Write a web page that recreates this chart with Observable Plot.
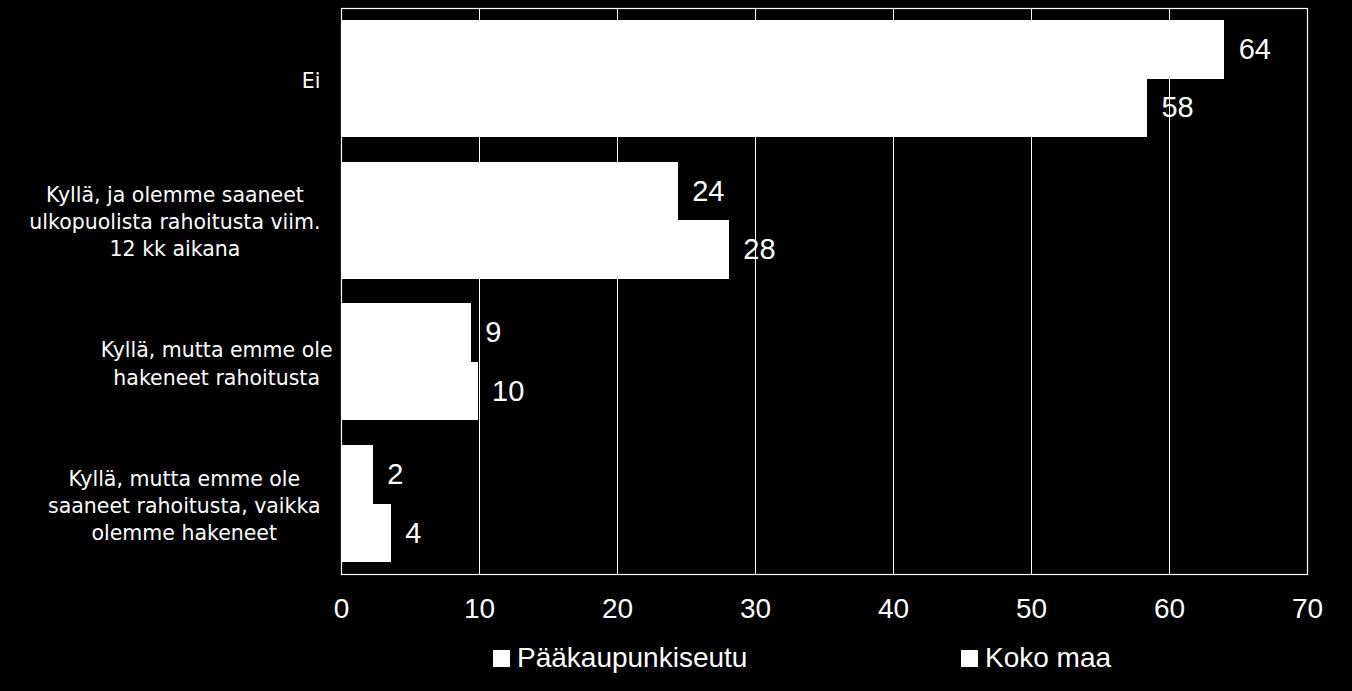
<!DOCTYPE html>
<html><head><meta charset="utf-8">
<script src="https://cdn.jsdelivr.net/npm/d3@7"></script>
<script src="https://cdn.jsdelivr.net/npm/@observablehq/plot@0.6"></script>
<style>
html,body{margin:0;padding:0;background:#000;}
#chart{width:1352px;height:691px;position:relative;background:#000;overflow:hidden;}
#chart svg{display:block;}
.legend{position:relative;height:59px;font-family:"Liberation Sans",Arial,sans-serif;font-size:28px;color:#fff;}
.item{position:absolute;top:0;display:flex;align-items:center;height:52px;white-space:nowrap;}
.sw{width:17px;height:17px;background:#fff;margin-right:7px;}
</style></head><body><div id="chart"></div>
<script>
// ---- data ----
const categories = [
  "Ei",
  "Kyllä, ja olemme saaneet ulkopuolista rahoitusta viim. 12 kk aikana",
  "Kyllä, mutta emme ole hakeneet rahoitusta",
  "Kyllä, mutta emme ole saaneet rahoitusta, vaikka olemme hakeneet"
];
const categoryTickLabels = [
  "Ei",
  "Kyllä, ja olemme saaneet\nulkopuolista rahoitusta viim.\n12 kk aikana",
  "Kyllä, mutta emme ole\nhakeneet rahoitusta",
  "Kyllä, mutta emme ole\nsaaneet rahoitusta, vaikka\nolemme hakeneet"
];
const seriesNames = ["Pääkaupunkiseutu", "Koko maa"];
const paakValues = [64.0, 24.4, 9.4, 2.3];
const kokoValues = [58.4, 28.1, 9.9, 3.6];
const xTicks = [0, 10, 20, 30, 40, 50, 60, 70];

// ---- layout ----
const W = 1352, H = 632, mL = 341, mR = 45, mT = 8, mB = 58;
const pInner = 0.176, pOuter = 0.085;
const numFont = '"Liberation Sans", Arial, sans-serif';
const catFont = '"DejaVu Sans", sans-serif';

const paakRows = categories.map((c, i) => ({category: c, series: seriesNames[0], value: paakValues[i]}));
const kokoRows = categories.map((c, i) => ({category: c, series: seriesNames[1], value: kokoValues[i]}));

function build(half) {
  return Plot.plot({
    width: W, height: H,
    marginLeft: mL, marginRight: mR, marginTop: mT, marginBottom: mB,
    style: {background: "#000", color: "#fff", fontFamily: numFont, fontSize: "28px"},
    x: {domain: [0, 70], label: null},
    y: {domain: categories, paddingInner: pInner, paddingOuter: pOuter, round: false, label: null},
    marks: [
      Plot.gridX(xTicks, {stroke: "#fff", strokeOpacity: 1, strokeWidth: 1}),
      Plot.barX(paakRows, {y: "category", x: "value", fill: "#fff", insetBottom: half - 0.7, shapeRendering: "crispEdges"}),
      Plot.barX(kokoRows, {y: "category", x: "value", fill: "#fff", insetTop: half, shapeRendering: "crispEdges"}),
      Plot.text(paakRows, {y: "category", x: "value", text: d => String(Math.round(d.value)),
        dx: 14, dy: -half / 2, textAnchor: "start", fill: "#fff", fontSize: 29, fontFamily: numFont}),
      Plot.text(kokoRows, {y: "category", x: "value", text: d => String(Math.round(d.value)),
        dx: 14, dy: half / 2, textAnchor: "start", fill: "#fff", fontSize: 29, fontFamily: numFont}),
      Plot.frame({stroke: "#fff", strokeWidth: 1.2}),
      Plot.axisX(xTicks, {tickSize: 0, tickPadding: 24, fontSize: 28, fill: "#fff", label: null}),
      Plot.axisY({tickSize: 0, tickPadding: 0, fontSize: 20.5, lineHeight: 1.32, fill: "#fff", label: null,
        tickFormat: c => categoryTickLabels[categories.indexOf(c)]})
    ]
  });
}
// measure the real bandwidth from the scale, then build the final chart
const probe = build(10);
const half = probe.scale("y").bandwidth / 2;
const chart = build(half);

const root = document.getElementById("chart");
root.appendChild(chart);

// legend
const legend = document.createElement("div");
legend.className = "legend";
const legendLefts = [493, 961];
seriesNames.forEach((s, i) => {
  const it = document.createElement("div");
  it.className = "item";
  it.style.left = legendLefts[i] + "px";
  const sw = document.createElement("div"); sw.className = "sw";
  const tx = document.createElement("span"); tx.textContent = s;
  it.appendChild(sw); it.appendChild(tx);
  legend.appendChild(it);
});
root.appendChild(legend);

// style axis text & center multi-line category labels
const svg = d3.select(chart);
svg.selectAll('g[aria-label="x-axis tick label"] text').attr("font-family", numFont).attr("font-size", 28);
svg.selectAll('g[aria-label="y-axis tick label"]').attr("font-family", catFont).attr("font-size", 20.5);
svg.selectAll('g[aria-label="y-axis tick label"] text').attr("font-family", catFont);
const labelRight = [320, 320, 332, 320];
svg.selectAll('g[aria-label="y-axis tick label"] text').each(function(_, i) {
  const t = d3.select(this);
  let maxw = 0;
  const spans = t.selectAll("tspan");
  if (spans.size()) spans.each(function() { maxw = Math.max(maxw, this.getComputedTextLength()); });
  else maxw = this.getComputedTextLength();
  const tr = t.attr("transform") || "";
  const m = /translate\(([-\d.e]+),\s*([-\d.e]+)\)/.exec(tr);
  const ty = m ? +m[2] : 0;
  t.attr("text-anchor", "middle").attr("transform", `translate(${labelRight[i] - maxw / 2},${ty})`);
});
</script></body></html>
